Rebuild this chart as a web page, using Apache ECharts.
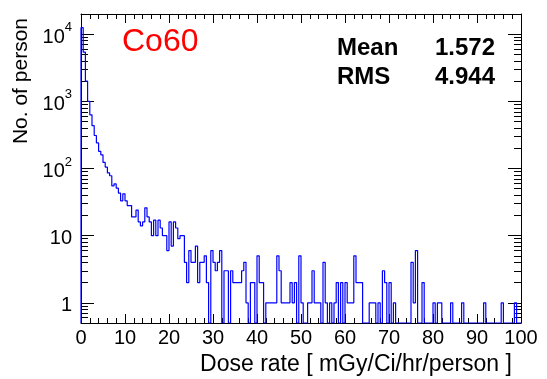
<!DOCTYPE html>
<html><head><meta charset="utf-8">
<script src="https://cdn.jsdelivr.net/npm/echarts@6/dist/echarts.min.js"></script>
<style>html,body{margin:0;padding:0;background:#fff}#c{width:547px;height:379px}</style>
</head><body><div id="c"></div>
<script>
// Histogram: 200 bins of width 0.5 from 0 to 100
const binStart = 0;
const binWidth = 0.5;
const counts = [
  12500,5400,2000,1000,630,435,310,240,180,160,123,105,86,78,55,59,51,43,33,42,
  33,28,28,19,19,24,16,14,16,26,19,16,10,17,10,17,13,10,10,6,
  16,7,16,13,9,10,10,4,2,6,4,4,7,2,4,4,5,2,0,6,
  4,3,4,6,0,3,3,0,3,2,2,2,2,3,4,1,0,2,2,0,
  5,2,2,0,1,1,1,1,1,5,3,1,1,1,1,2,1,2,0,5,
  1,0,0,1,1,3,1,1,1,0,4,1,0,1,0,1,2,0,2,0,
  2,1,1,1,5,2,2,2,0,0,0,1,1,1,0,1,0,3,2,0,
  2,0,1,0,0,0,0,0,0,0,4,1,6,0,0,2,0,0,0,0,
  1,0,1,1,0,0,0,0,1,0,0,0,0,1,0,0,0,0,0,0,
  0,0,0,1,0,0,0,0,0,0,0,1,0,0,0,0,0,1,0,0
];
const xTickLabels = [0,10,20,30,40,50,60,70,80,90,100];
const yMajorTicks = [1,10,100,1000,10000];
const yMinorTicks = [];
[0.1,1,10,100,1000,10000].forEach(d=>{for(let m=2;m<=9;m++){yMinorTicks.push(d*m);}});
const statNames = ['Mean','RMS'];
const statValues = ['1.572','4.944'];
const histTitle = 'Co60';

const yMin = 0.5, yMax = 20000, xMin = 0, xMax = 100;

const pts = [[xMin, yMin]];
counts.forEach((c,i)=>{ pts.push([binStart + i*binWidth, c > 0 ? c : yMin]); });
pts.push([binStart + counts.length*binWidth, counts[counts.length-1] > 0 ? counts[counts.length-1] : yMin]);
pts.push([xMax, yMin]);

const FONT = '"Liberation Sans", Arial, Helvetica, sans-serif';
const chart = echarts.init(document.getElementById('c'), null, {renderer:'canvas'});

function yFmt(v){
  const e = Math.round(Math.log10(v));
  if (e === 0) return '{b|1}';
  if (e === 1) return '{b|10}';
  return '{b|10}{s|' + e + '}';
}
const grid = {left:81, right:26, top:14, bottom:56, containLabel:false, outerBoundsMode:'none'};
const baseY = {type:'log', logBase:10, min:yMin, max:yMax, splitLine:{show:false}};
const baseX = {type:'value', min:xMin, max:xMax, interval:10, splitLine:{show:false}};

chart.setOption({
  animation:false,
  backgroundColor:'#fff',
  grid: grid,
  xAxis: [
    Object.assign({}, baseX, {
      position:'bottom',
      name:'Dose rate [ mGy/Ci/hr/person ]', nameLocation:'middle', nameGap:29,
      nameTextStyle:{fontFamily:FONT, fontSize:23, color:'#000', padding:[0,0,0,110]},
      axisLine:{show:true, lineStyle:{color:'#000', width:1}},
      axisTick:{show:true, inside:true, length:9, lineStyle:{color:'#000'}},
      minorTick:{show:true, splitNumber:5, length:5, lineStyle:{color:'#000'}},
      axisLabel:{fontFamily:FONT, fontSize:20, color:'#000', margin:5, showMinLabel:true, showMaxLabel:true},
    }),
    Object.assign({}, baseX, {
      position:'top',
      axisLine:{show:true, lineStyle:{color:'#000', width:1}},
      axisTick:{show:true, inside:true, length:9, lineStyle:{color:'#000'}},
      minorTick:{show:true, splitNumber:5, length:5, lineStyle:{color:'#000'}},
      axisLabel:{show:false}
    })
  ],
  yAxis: [
    Object.assign({}, baseY, {
      position:'left',
      name:'No. of person', nameLocation:'end', nameRotate:90, nameGap:0,
      nameTextStyle:{fontFamily:FONT, fontSize:21, color:'#000', align:'right', verticalAlign:'bottom', padding:[0,4,49,0]},
      axisLine:{show:true, lineStyle:{color:'#000', width:1}},
      axisTick:{show:true, inside:true, length:13, customValues:yMajorTicks, lineStyle:{color:'#000'}},
      axisLabel:{customValues:yMajorTicks, formatter:yFmt, margin:9,
        rich:{b:{fontFamily:FONT, fontSize:20, color:'#000', lineHeight:26, verticalAlign:'bottom'},
              s:{fontFamily:FONT, fontSize:13, color:'#000', lineHeight:26, verticalAlign:'top'}}}
    }),
    Object.assign({}, baseY, {
      position:'left',
      axisLine:{show:false},
      axisTick:{show:true, inside:true, length:7, customValues:yMinorTicks, lineStyle:{color:'#000'}},
      axisLabel:{show:false}
    }),
    Object.assign({}, baseY, {
      position:'right',
      axisLine:{show:true, lineStyle:{color:'#000', width:1}},
      axisTick:{show:true, inside:true, length:13, customValues:yMajorTicks, lineStyle:{color:'#000'}},
      axisLabel:{show:false}
    }),
    Object.assign({}, baseY, {
      position:'right',
      axisLine:{show:false},
      axisTick:{show:true, inside:true, length:7, customValues:yMinorTicks, lineStyle:{color:'#000'}},
      axisLabel:{show:false}
    })
  ],
  series: [{
    type:'line', xAxisIndex:0, yAxisIndex:0, data:pts, step:'end',
    showSymbol:false, symbol:'none', clip:true,
    lineStyle:{color:'#0000ff', width:1.2}
  }],
  graphic: [
    {type:'text', left:122, top:26, style:{text:histTitle, fill:'#ff0000', font:'32px ' + FONT}},
    {type:'text', left:337, top:36, style:{text:statNames[0], fill:'#000', font:'bold 24px ' + FONT}},
    {type:'text', left:337, top:65, style:{text:statNames[1], fill:'#000', font:'bold 24px ' + FONT}},
    {type:'text', right:52, top:36, style:{text:statValues[0], fill:'#000', font:'bold 24px ' + FONT, align:'right'}},
    {type:'text', right:52, top:65, style:{text:statValues[1], fill:'#000', font:'bold 24px ' + FONT, align:'right'}}
  ]
});
</script></body></html>
